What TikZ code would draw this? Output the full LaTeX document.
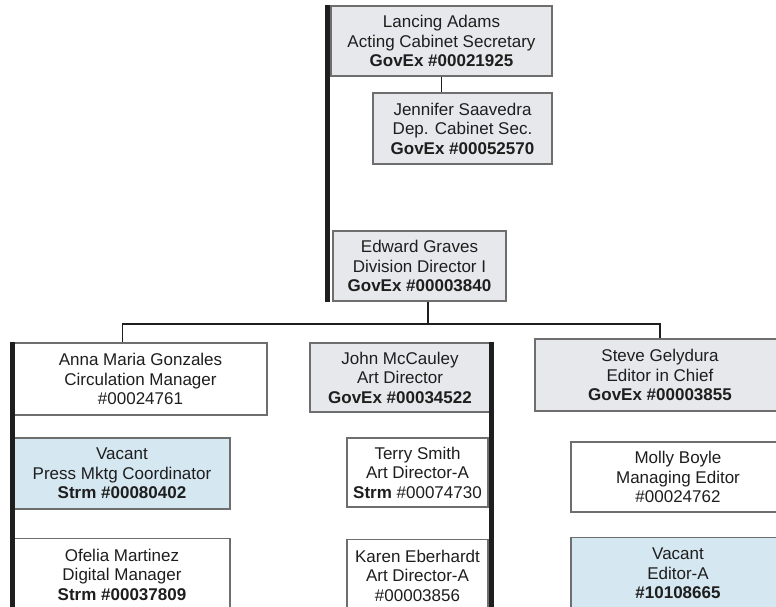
\documentclass[tikz,border=0pt]{standalone}
\usepackage{fontspec}
\setmainfont{Liberation Sans}
\definecolor{boxgray}{HTML}{E7E8EB}
\definecolor{boxblue}{HTML}{D5E7F0}
\definecolor{edge}{HTML}{6E6E6E}
\definecolor{ink}{HTML}{1E1E1E}
\tikzset{
  post/.style={draw=edge, line width=1.3pt, align=center, inner sep=0pt,
    text=ink, font=\fontsize{17}{19.5}\selectfont},
  gpost/.style={post, fill=boxgray},
  bpost/.style={post, fill=boxblue},
  wpost/.style={post, fill=white},
  link/.style={draw=ink, line width=1.8pt},
  bar/.style={draw=ink, line width=5pt}
}
\begin{document}
\begin{tikzpicture}[x=1pt,y=-1pt]
\useasboundingbox (0,0) rectangle (776,606);
\clip (0,0) rectangle (776,606);
\fill[white] (0,0) rectangle (776,606);

% top of the hierarchy
\node[gpost, minimum width=221pt, minimum height=70pt] (adams) at (441.5,41)
  {Lancing Adams\\Acting Cabinet Secretary\\\textbf{GovEx \#00021925}};
\node[gpost, minimum width=179pt, minimum height=71pt] (saavedra) at (462.5,128.5)
  {Jennifer Saavedra\\Dep. Cabinet Sec.\\\textbf{GovEx \#00052570}};
\node[gpost, minimum width=173pt, minimum height=70pt] (graves) at (419.5,266)
  {Edward Graves\\Division Director I\\\textbf{GovEx \#00003840}};

% left column
\node[wpost, minimum width=253pt, minimum height=72pt] (gonzales) at (140.5,379)
  {Anna Maria Gonzales\\Circulation Manager\\\#00024761};
\node[bpost, minimum width=216pt, minimum height=71pt] (press) at (122,473.5)
  {Vacant\\Press Mktg Coordinator\\\textbf{Strm \#00080402}};
\node[wpost, minimum width=216pt, minimum height=72pt, anchor=north] (martinez) at (122,538)
  {Ofelia Martinez\\Digital Manager\\\textbf{Strm \#00037809}};

% middle column
\node[gpost, minimum width=180pt, minimum height=69pt] (mccauley) at (400,377.5)
  {John McCauley\\Art Director\\\textbf{GovEx \#00034522}};
\node[wpost, minimum width=141pt, minimum height=69pt] (smith) at (417.5,472.5)
  {Terry Smith\\Art Director-A\\\textbf{Strm} \#00074730};
\node[wpost, minimum width=141pt, minimum height=72pt, anchor=north] (eberhardt) at (417.5,539)
  {Karen Eberhardt\\Art Director-A\\\#00003856};

% right column
\node[gpost, minimum width=250pt, minimum height=72pt] (gelydura) at (660,375)
  {Steve Gelydura\\Editor in Chief\\\textbf{GovEx \#00003855}};
\node[wpost, minimum width=214pt, minimum height=70pt] (boyle) at (678,477)
  {Molly Boyle\\Managing Editor\\\#00024762};
\node[bpost, minimum width=214pt, minimum height=72pt, anchor=north] (editora) at (678,537)
  {Vacant\\Editor-A\\\textbf{\#10108665}};

% reporting lines
\coordinate (bus) at (428,324);
\draw[link] (adams.south) -- (adams.south |- saavedra.north);
\draw[link] ([xshift=8.5pt]graves.south) -- ([xshift=8.5pt]graves.south |- bus);
\draw[link] ([xshift=-18pt]gonzales.north) |- (bus) -| (gelydura.north);

% heavy staff bars
\draw[bar] ([xshift=-3pt]adams.north west) -- ([xshift=-3pt]adams.north west |- graves.south);
\draw[bar] ([xshift=-1pt]gonzales.north west) -- ([xshift=-1pt]gonzales.north west |- martinez.south);
\draw[bar] ([xshift=1pt]mccauley.north east) -- ([xshift=1pt]mccauley.north east |- eberhardt.south);
\end{tikzpicture}
\end{document}
